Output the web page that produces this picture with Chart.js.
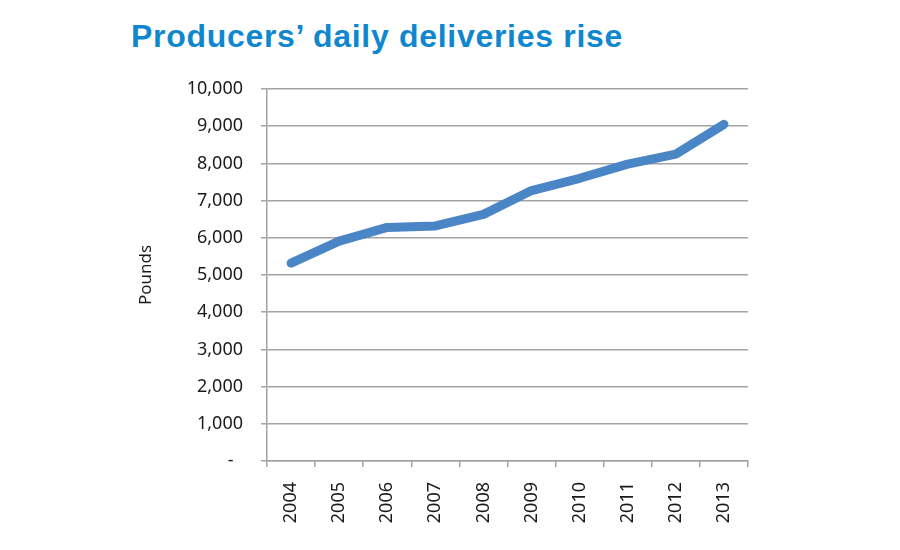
<!DOCTYPE html>
<html lang="en">
<head>
    <meta charset="UTF-8">
    <title>Producers' daily deliveries rise</title>
    <script src="https://cdn.jsdelivr.net/npm/chart.js"></script>
    <style>
        body { margin: 0; background: #fff; }
        #wrap { position: relative; width: 900px; height: 550px; }
        #title {
            position: absolute; left: 131px; top: 20px; margin: 0;
            font: bold 32px "Liberation Sans", Arial, sans-serif;
            line-height: 32px; letter-spacing: 0.7px; color: #0f87cf;
            white-space: nowrap;
        }
        canvas { position: absolute; left: 0; top: 0; }
    </style>
</head>
<body>
    <div id="wrap">
        <h1 id="title">Producers’ daily deliveries rise</h1>
        <canvas id="chart" width="900" height="550"></canvas>
    </div>

    <script>
        // data
        const years = ['2004', '2005', '2006', '2007', '2008', '2009', '2010', '2011', '2012', '2013'];
        const pounds = [5320, 5910, 6280, 6320, 6630, 7270, 7600, 7980, 8250, 9050];
        const yMin = 0;
        const yMax = 10000;
        const yStep = 1000;

        const tickFont = { family: '"Noto Sans", "Open Sans", sans-serif', size: 18 };
        const gridColor = '#a3a3a3';

        const ctx = document.getElementById('chart').getContext('2d');

        new Chart(ctx, {
            type: 'line',
            data: {
                labels: years,
                datasets: [{
                    label: 'Pounds',
                    data: pounds,
                    borderColor: '#4a85c5',
                    borderWidth: 9,
                    borderCapStyle: 'round',
                    borderJoinStyle: 'round',
                    pointRadius: 0,
                    tension: 0,
                    fill: false
                }]
            },
            options: {
                responsive: false,
                animation: false,
                layout: { padding: { left: 132, right: 152, top: 89, bottom: 0 } },
                plugins: {
                    legend: { display: false },
                    tooltip: { enabled: false }
                },
                scales: {
                    x: {
                        offset: true,
                        grid: {
                            offset: true,
                            drawOnChartArea: false,
                            drawTicks: true,
                            tickLength: 6,
                            color: gridColor,
                            lineWidth: 1.5
                        },
                        border: { color: gridColor, width: 1.5 },
                        ticks: {
                            color: '#1a1a1a',
                            font: tickFont,
                            minRotation: 90,
                            maxRotation: 90,
                            padding: 15,
                            autoSkip: false
                        },
                        afterFit: function (scale) { scale.height = 89; }
                    },
                    y: {
                        min: yMin,
                        max: yMax,
                        grid: {
                            color: gridColor,
                            lineWidth: 1.5,
                            tickLength: 6
                        },
                        border: { color: gridColor, width: 1.5 },
                        ticks: {
                            stepSize: yStep,
                            color: '#1a1a1a',
                            font: tickFont,
                            padding: 18,
                            callback: function (value) {
                                return value === 0 ? '-  ' : value.toLocaleString('en-US');
                            }
                        },
                        title: {
                            display: true,
                            text: 'Pounds',
                            color: '#1a1a1a',
                            font: { family: '"Noto Sans", "Open Sans", sans-serif', size: 17 },
                            padding: { top: 4, bottom: 4 }
                        },
                        afterFit: function (scale) { scale.width = 135; }
                    }
                }
            }
        });
    </script>
</body>
</html>
